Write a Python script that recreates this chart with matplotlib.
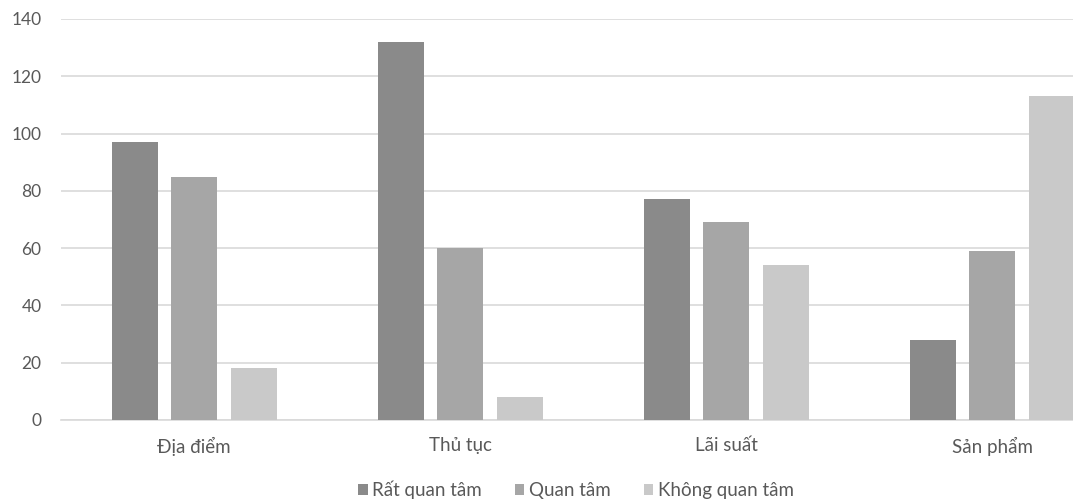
import matplotlib
matplotlib.use("Agg")
import matplotlib.pyplot as plt
import numpy as np

categories = ["Địa điểm", "Thủ tục", "Lãi suất", "Sản phẩm"]
series_names = ["Rất quan tâm", "Quan tâm", "Không quan tâm"]
rat_quan_tam = [97, 132, 77, 28]
quan_tam = [85, 60, 69, 59]
khong_quan_tam = [18, 8, 54, 113]
y_ticks = [0, 20, 40, 60, 80, 100, 120, 140]

colors = ["#8a8a8a", "#a6a6a6", "#c9c9c9"]
text_color = "#595959"
grid_color = "#d9d9d9"

plt.rcParams["font.family"] = ["Lato", "DejaVu Sans"]

fig = plt.figure(figsize=(10.73, 5.01), dpi=100)
ax = fig.add_axes([0.0569, 0.1617, 0.9916, 0.8004])

x = np.arange(len(categories))
step = 0.2237
width = 0.173
for i, (vals, name) in enumerate(zip([rat_quan_tam, quan_tam, khong_quan_tam], series_names)):
    ax.bar(x + (i - 1) * step, vals, width, color=colors[i], label=name, zorder=3)

ax.set_xlim(-0.5, len(categories) - 0.5)
ax.set_ylim(0, 140)
ax.set_yticks(y_ticks)
ax.set_xticks(x)
ax.set_xticklabels(categories)
ax.grid(axis="y", color=grid_color, linewidth=1.2, zorder=0)
for s in ["top", "right", "left"]:
    ax.spines[s].set_visible(False)
ax.spines["bottom"].set_color(grid_color)
ax.spines["bottom"].set_linewidth(1.2)
ax.tick_params(axis="y", length=0, colors=text_color, labelsize=12.5, pad=14)
ax.tick_params(axis="x", length=0, colors=text_color, labelsize=13.5, pad=12)

fig.legend(loc="center", bbox_to_anchor=(576 / 1073, 1 - 490 / 501), ncol=3,
           frameon=False, fontsize=13.5, labelcolor=text_color,
           handlelength=0.5, handleheight=0.5, handletextpad=0.25,
           columnspacing=1.75)

fig.savefig("out.png", dpi=100)
